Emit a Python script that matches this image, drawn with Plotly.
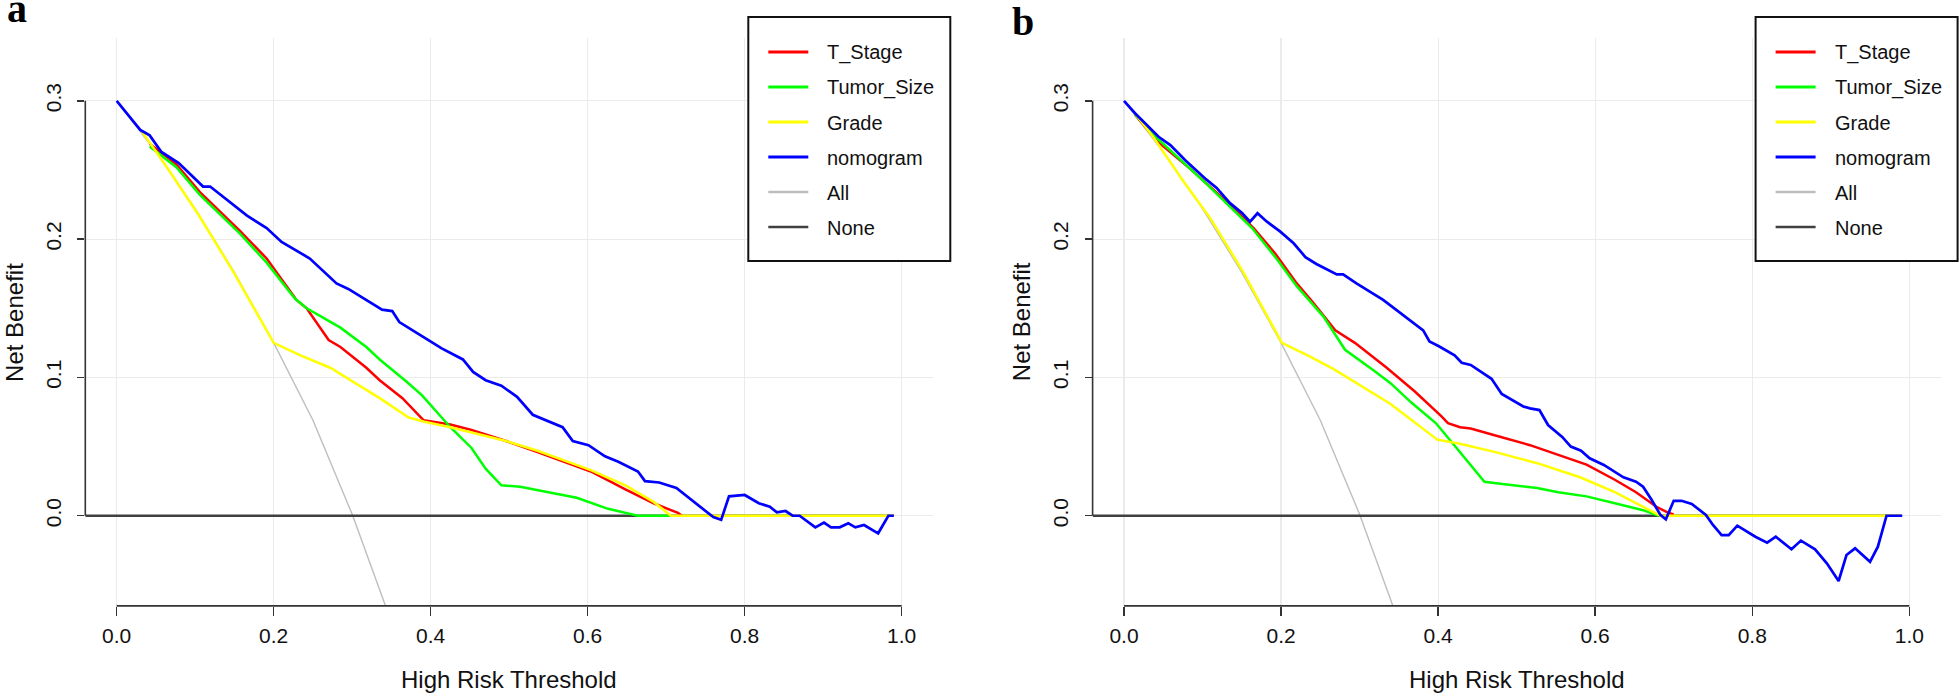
import plotly.graph_objects as go

W, H = 1960, 698

# ---------------- data: panel a ----------------
a_tstage_x = [0.042, 0.076, 0.106, 0.157, 0.191, 0.229, 0.242, 0.255, 0.270, 0.285, 0.318, 0.335,
              0.364, 0.391, 0.425, 0.452, 0.496, 0.536, 0.604, 0.648, 0.684, 0.715, 0.720]
a_tstage_y = [0.269, 0.254, 0.234, 0.206, 0.186, 0.156, 0.150, 0.139, 0.127, 0.122, 0.107, 0.098,
              0.085, 0.069, 0.066, 0.062, 0.054, 0.046, 0.032, 0.019, 0.009, 0.002, 0.000]

a_tumor_x = [0.042, 0.076, 0.106, 0.157, 0.191, 0.227, 0.242, 0.285, 0.318, 0.335, 0.369, 0.389, 0.425,
             0.452, 0.470, 0.490, 0.514, 0.550, 0.586, 0.626, 0.664, 0.706]
a_tumor_y = [0.267, 0.252, 0.232, 0.204, 0.183, 0.157, 0.150, 0.136, 0.122, 0.113, 0.097, 0.087, 0.064,
             0.049, 0.034, 0.022, 0.021, 0.017, 0.013, 0.005, 0.000, 0.000]

a_grade_x = [0.032, 0.064, 0.106, 0.149, 0.200, 0.234, 0.272, 0.335, 0.372, 0.392, 0.425, 0.496, 0.536,
             0.604, 0.648, 0.684, 0.706, 0.990]
a_grade_y = [0.278, 0.252, 0.216, 0.176, 0.125, 0.116, 0.107, 0.085, 0.071, 0.068, 0.064, 0.054, 0.047,
             0.033, 0.022, 0.010, 0.000, 0.000]

a_nomo_x = [0.000, 0.030, 0.042, 0.057, 0.079, 0.110, 0.119, 0.166, 0.191, 0.210, 0.246, 0.280, 0.295,
            0.338, 0.351, 0.360, 0.394, 0.414, 0.441, 0.454, 0.470, 0.490, 0.510, 0.530, 0.568, 0.581,
            0.601, 0.622, 0.639, 0.664, 0.673, 0.691, 0.713, 0.738, 0.760, 0.770, 0.780, 0.800, 0.818,
            0.832, 0.841, 0.852, 0.861, 0.870, 0.890, 0.901, 0.910, 0.921, 0.932, 0.941, 0.952, 0.970,
            0.983, 0.990]
a_nomo_y = [0.300, 0.279, 0.275, 0.263, 0.255, 0.238, 0.238, 0.217, 0.208, 0.198, 0.186, 0.168, 0.164,
            0.149, 0.148, 0.140, 0.128, 0.121, 0.113, 0.104, 0.098, 0.094, 0.086, 0.073, 0.064, 0.054,
            0.051, 0.043, 0.039, 0.032, 0.025, 0.024, 0.020, 0.009, -0.001, -0.003, 0.014, 0.015, 0.009,
            0.0065, 0.0024, 0.0034, 0.000, 0.000, -0.0084, -0.005, -0.0084, -0.0084, -0.0055, -0.0084,
            -0.0067, -0.0127, 0.000, 0.000]

# ---------------- data: panel b ----------------
b_tstage_x = [0.014, 0.044, 0.084, 0.135, 0.165, 0.192, 0.220, 0.241, 0.269, 0.294, 0.3345, 0.370, 0.404,
              0.4125, 0.428, 0.4415, 0.473, 0.517, 0.553, 0.589, 0.625, 0.652, 0.678, 0.692, 0.700]
b_tstage_y = [0.290, 0.270, 0.251, 0.225, 0.208, 0.190, 0.168, 0.154, 0.134, 0.125, 0.107, 0.090, 0.072,
              0.067, 0.064, 0.063, 0.058, 0.051, 0.044, 0.037, 0.026, 0.017, 0.0065, 0.0024, 0.001]

b_tumor_x = [0.014, 0.044, 0.105, 0.163, 0.194, 0.220, 0.254, 0.2815, 0.318, 0.339, 0.3655, 0.397, 0.419,
             0.446, 0.459, 0.482, 0.526, 0.553, 0.589, 0.625, 0.661, 0.681]
b_tumor_y = [0.290, 0.272, 0.240, 0.208, 0.186, 0.166, 0.144, 0.120, 0.105, 0.096, 0.082, 0.067, 0.052,
             0.033, 0.0246, 0.023, 0.020, 0.017, 0.014, 0.009, 0.004, 0.000]

b_grade_x = [0.014, 0.037, 0.076, 0.110, 0.152, 0.201, 0.237, 0.267, 0.339, 0.399, 0.428, 0.473, 0.526,
             0.580, 0.625, 0.661, 0.683, 0.990]
b_grade_y = [0.291, 0.274, 0.2415, 0.215, 0.176, 0.125, 0.115, 0.106, 0.081, 0.055, 0.052, 0.046, 0.038,
             0.028, 0.017, 0.0065, 0.000, 0.000]

b_nomo_x = [0.000, 0.014, 0.029, 0.044, 0.059, 0.078, 0.105, 0.118, 0.135, 0.150, 0.1605, 0.170, 0.182,
            0.199, 0.216, 0.231, 0.245, 0.271, 0.279, 0.296, 0.330, 0.364, 0.381, 0.389, 0.401, 0.421,
            0.430, 0.4415, 0.468, 0.481, 0.5085, 0.517, 0.529, 0.540, 0.558, 0.569, 0.582, 0.593, 0.611,
            0.636, 0.652, 0.661, 0.672, 0.683, 0.690, 0.700, 0.710, 0.723, 0.741, 0.750, 0.761, 0.770,
            0.781, 0.804, 0.819, 0.830, 0.850, 0.862, 0.880, 0.895, 0.910, 0.920, 0.931, 0.950, 0.960,
            0.971, 0.991]
b_nomo_y = [0.300, 0.291, 0.2825, 0.274, 0.268, 0.257, 0.243, 0.237, 0.226, 0.219, 0.2126, 0.2187, 0.2126,
            0.2054, 0.197, 0.187, 0.182, 0.1745, 0.1745, 0.168, 0.156, 0.1415, 0.134, 0.126, 0.1225, 0.116,
            0.1106, 0.109, 0.099, 0.088, 0.079, 0.0776, 0.0764, 0.0656, 0.057, 0.050, 0.047, 0.0415, 0.0367,
            0.0278, 0.0246, 0.021, 0.0114, 0.0006, -0.0026, 0.0108, 0.0108, 0.0085, 0.0006, -0.0067, -0.014,
            -0.014, -0.0072, -0.0152, -0.0195, -0.0152, -0.0243, -0.018, -0.0243, -0.0344, -0.0472, -0.0284,
            -0.0236, -0.0333, -0.0224, 0.000, 0.000]

# reference lines (same in both panels)
all_x = [0.00, 0.05, 0.10, 0.15, 0.20, 0.25, 0.30, 0.35]
all_y = [0.300, 0.263, 0.222, 0.176, 0.125, 0.069, 0.001, -0.077]
none_x = [-0.04, 0.99]
none_y = [0.0, 0.0]

x_ticks = [0.0, 0.2, 0.4, 0.6, 0.8, 1.0]
x_tick_labels = ["0.0", "0.2", "0.4", "0.6", "0.8", "1.0"]
y_ticks = [0.0, 0.1, 0.2, 0.3]
y_tick_labels = ["0.0", "0.1", "0.2", "0.3"]

legend_names = ["T_Stage", "Tumor_Size", "Grade", "nomogram", "All", "None"]

COL = {"T_Stage": "#FF0000", "Tumor_Size": "#00FF00", "Grade": "#FFFF00",
       "nomogram": "#0000FF", "All": "#BEBEBE", "None": "#404040"}
LW = {"T_Stage": 2.5, "Tumor_Size": 2.5, "Grade": 2.5, "nomogram": 2.7, "All": 1.4, "None": 2.4}

panels = [
    {"tstage": (a_tstage_x, a_tstage_y), "tumor": (a_tumor_x, a_tumor_y),
     "grade": (a_grade_x, a_grade_y), "nomo": (a_nomo_x, a_nomo_y)},
    {"tstage": (b_tstage_x, b_tstage_y), "tumor": (b_tumor_x, b_tumor_y),
     "grade": (b_grade_x, b_grade_y), "nomo": (b_nomo_x, b_nomo_y)},
]

# ---------------- layout geometry (pixels) ----------------
plot_left = [85.3, 1092.6]
plot_right = [933.1, 1940.7]
plot_top, plot_bottom = 38.3, 605.9
XR = [-0.04, 1.04]
YR = [-0.0652, 0.3452]

def fx(p):
    return p / W

def fy(p):
    return 1 - p / H

FONT = "Liberation Sans, Arial, sans-serif"
fig = go.Figure()

for i, pdat in enumerate(panels):
    xa = "x" if i == 0 else "x2"
    ya = "y" if i == 0 else "y2"
    series = [("All", all_x, all_y), ("None", none_x, none_y),
              ("T_Stage",) + pdat["tstage"], ("Tumor_Size",) + pdat["tumor"],
              ("Grade",) + pdat["grade"], ("nomogram",) + pdat["nomo"]]
    for name, xs, ys in series:
        assert len(xs) == len(ys), name
        fig.add_trace(go.Scatter(x=xs, y=ys, mode="lines", name=name, showlegend=False,
                                 line=dict(color=COL[name], width=LW[name]),
                                 xaxis=xa, yaxis=ya, hoverinfo="skip"))

axis_common = dict(showgrid=True, gridcolor="#EBEBEB", gridwidth=1.2, zeroline=False,
                   showline=False, ticks="outside", tickcolor="#333333", tickwidth=1.4,
                   tickfont=dict(family=FONT, size=21, color="#111111"))

layout_axes = {}
for i in range(2):
    sx = "" if i == 0 else "2"
    layout_axes["xaxis" + sx] = dict(
        domain=[fx(plot_left[i]), fx(plot_right[i])], range=XR, anchor="y" + sx,
        tickmode="array", tickvals=x_ticks, ticktext=x_tick_labels, ticklen=9,
        ticklabelstandoff=2, **axis_common)
    layout_axes["yaxis" + sx] = dict(
        domain=[fy(plot_bottom), fy(plot_top)], range=YR, anchor="x" + sx,
        tickmode="array", tickvals=y_ticks, ticktext=y_tick_labels, ticklen=7,
        tickangle=-90, ticklabelstandoff=8, **axis_common)

shapes = []
annotations = []
for i in range(2):
    sx = "" if i == 0 else "2"
    # R-style axis lines (y only across tick range, x across 0..1)
    shapes.append(dict(type="line", xref="x" + sx + " domain", yref="y" + sx,
                       x0=0, x1=0, y0=0, y1=0.3, line=dict(color="#333333", width=1.6)))
    shapes.append(dict(type="line", xref="x" + sx, yref="y" + sx + " domain",
                       x0=0, x1=1, y0=0, y1=0, line=dict(color="#333333", width=1.6)))
    # legend box
    L = plot_left[i] + 663
    R = L + 202
    shapes.append(dict(type="rect", xref="paper", yref="paper", x0=fx(L), x1=fx(R),
                       y0=fy(261), y1=fy(17), fillcolor="white",
                       line=dict(color="#111111", width=2), layer="above"))
    rows = [52, 87, 122, 157, 192, 227]
    for name, ry in zip(legend_names, rows):
        shapes.append(dict(type="line", xref="paper", yref="paper",
                           x0=fx(L + 20), x1=fx(L + 60), y0=fy(ry), y1=fy(ry),
                           line=dict(color=COL[name], width=3 if name not in ("All", "None") else 2.4),
                           layer="above"))
        annotations.append(dict(text=name, xref="paper", yref="paper", x=fx(L + 77), y=fy(ry + 1),
                                xanchor="left", yanchor="middle", showarrow=False,
                                font=dict(family=FONT, size=20, color="#111111")))
    # axis titles
    cx = (plot_left[i] + plot_right[i]) / 2
    annotations.append(dict(text="High Risk Threshold", xref="paper", yref="paper",
                            x=fx(cx), y=fy(679), xanchor="center", yanchor="middle",
                            showarrow=False, font=dict(family=FONT, size=24, color="#111111")))
    annotations.append(dict(text="Net Benefit", xref="paper", yref="paper",
                            x=fx(plot_left[i] - 71.5), y=fy((plot_top + plot_bottom) / 2),
                            xanchor="center", yanchor="middle", textangle=-90,
                            showarrow=False, font=dict(family=FONT, size=24, color="#111111")))

# panel letters ("a" has no ascender: a shorter, bottom-aligned box keeps it inside the page)
annotations.append(dict(text="<b>a</b>", xref="paper", yref="paper", x=fx(5), y=fy(0),
                        xanchor="left", yanchor="top", showarrow=False, height=29, valign="bottom",
                        font=dict(family="Liberation Serif, Times New Roman, serif", size=40, color="black")))
annotations.append(dict(text="<b>b</b>", xref="paper", yref="paper", x=fx(1010), y=fy(-3),
                        xanchor="left", yanchor="top", showarrow=False,
                        font=dict(family="Liberation Serif, Times New Roman, serif", size=40, color="black")))

fig.update_layout(width=W, height=H, autosize=False, margin=dict(l=0, r=0, t=0, b=0),
                  paper_bgcolor="white", plot_bgcolor="white", showlegend=False,
                  shapes=shapes, annotations=annotations, **layout_axes)

fig.write_html("out.html", config={"displayModeBar": False, "staticPlot": True},
               post_script="document.body.style.margin='0px';document.body.style.padding='0px';"
                           "document.body.style.overflow='hidden';")
